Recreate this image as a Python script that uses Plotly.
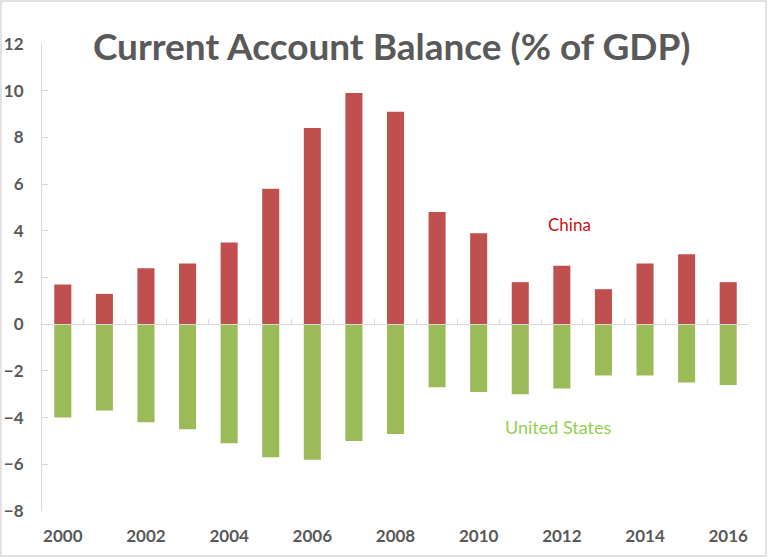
import plotly.graph_objects as go

years = list(range(2000, 2017))
china = [1.7, 1.3, 2.4, 2.6, 3.5, 5.8, 8.4, 9.9, 9.1, 4.8, 3.9, 1.8, 2.5, 1.5, 2.6, 3.0, 1.8]
us = [-4.0, -3.7, -4.2, -4.5, -5.1, -5.7, -5.8, -5.0, -4.7, -2.7, -2.9, -3.0, -2.75, -2.2, -2.2, -2.5, -2.6]
y_ticks = list(range(-8, 13, 2))
x_ticks = list(range(2000, 2017, 2))

W, H = 768, 558
ml, mr, mt, mb = 42, 19, 44, 47
pw, ph = W - ml - mr, H - mt - mb
ymin, ymax = -8, 12
xmin, xmax = 1999.5, 2016.5

fig = go.Figure()
fig.add_trace(go.Bar(x=years, y=china, name="China", marker_color="#c0504d", marker_line_width=0))
fig.add_trace(go.Bar(x=years, y=us, name="United States", marker_color="#9bbb59", marker_line_width=0))
# invisible trace to host the zero-line axis
fig.add_trace(go.Scatter(x=[xmin, xmax], y=[0, 0], xaxis="x2", mode="lines",
                         line=dict(width=0), hoverinfo="skip", showlegend=False))

font_fam = "Lato"
grey = "#595959"

fig.update_layout(
    width=W, height=H,
    margin=dict(l=ml, r=mr, t=mt, b=mb, autoexpand=False),
    paper_bgcolor="white", plot_bgcolor="white",
    barmode="relative", bargap=0.59,
    showlegend=False,
    title=dict(text="<b>Current Account Balance (% of GDP)</b>",
               font=dict(family=font_fam, size=37, color=grey),
               x=0.51, xanchor="center", y=1 - 47 / H, yanchor="middle"),
    xaxis=dict(range=[xmin, xmax], tickvals=x_ticks, showgrid=False, zeroline=False,
               showline=False, ticks="outside", ticklen=10, tickcolor="rgba(0,0,0,0)",
               automargin=False,
               tickfont=dict(family=font_fam, size=17, color=grey, weight="bold")),
    xaxis2=dict(range=[xmin, xmax], overlaying="x", anchor="free",
                position=(0 - ymin) / (ymax - ymin), side="bottom",
                showline=True, linecolor="#d9d9d9", linewidth=1,
                tickvals=[v + 0.5 for v in range(1999, 2017)], ticks="inside",
                ticklen=5, tickcolor="#d9d9d9", showticklabels=False,
                showgrid=False, zeroline=False, automargin=False),
    yaxis=dict(range=[ymin, ymax], tickvals=y_ticks, showgrid=False, zeroline=False,
               showline=True, linecolor="#d9d9d9", linewidth=1,
               ticks="inside", ticklen=6, tickcolor="#d9d9d9",
               ticklabelstandoff=14, automargin=False,
               tickfont=dict(family=font_fam, size=17, color=grey, weight="bold")),
)

fig.add_annotation(x=2012.18, y=4.25, text="China", showarrow=False,
                   font=dict(family=font_fam, size=17, color="#cc1010"))
fig.add_annotation(x=2011.9, y=-4.4, text="United States", showarrow=False,
                   font=dict(family=font_fam, size=18, color="#92d050"))

# outer chart frame
fig.add_shape(type="rect", xref="paper", yref="paper",
              x0=(1 - ml) / pw, x1=(W - 2 - ml) / pw,
              y0=-(H - 2 - (H - mb)) / ph, y1=1 + (mt - 1) / ph,
              line=dict(color="#d9d9d9", width=1.5), fillcolor="rgba(0,0,0,0)", layer="below")

fig.write_html("out.html", config={"displayModeBar": False},
               post_script="document.body.style.margin='0';document.body.style.overflow='hidden';")
